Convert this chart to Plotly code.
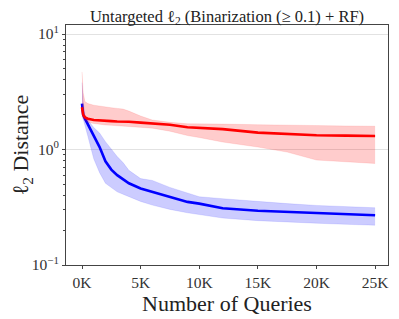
import plotly.graph_objects as go

queries = [0, 100, 250, 500, 1000, 1500, 2000, 2500, 3000, 3500, 4000, 5000, 6000,
           7500, 9000, 10000, 12000, 15000, 17500, 20000, 22500, 25000]

blue_mean = [2.5, 2.0, 1.85, 1.65, 1.35, 1.05, 0.79, 0.67, 0.6, 0.55, 0.51, 0.46, 0.43,
             0.39, 0.352, 0.34, 0.31, 0.295, 0.288, 0.28, 0.275, 0.27]
blue_upper = [3.8, 2.6, 2.0, 1.8, 1.55, 1.39, 1.17, 1.0, 0.87, 0.77, 0.66, 0.56, 0.54,
              0.47, 0.42, 0.39, 0.375, 0.353, 0.34, 0.328, 0.32, 0.313]
blue_lower = [2.0, 1.85, 1.6, 1.3, 0.83, 0.63, 0.51, 0.47, 0.43, 0.41, 0.39, 0.355, 0.33,
              0.303, 0.283, 0.272, 0.255, 0.242, 0.235, 0.23, 0.225, 0.221]

red_mean = [2.32, 2.0, 1.9, 1.85, 1.8, 1.78, 1.77, 1.76, 1.75, 1.75, 1.74, 1.71, 1.68,
            1.64, 1.56, 1.54, 1.5, 1.40, 1.36, 1.33, 1.32, 1.31]
red_upper = [4.7, 3.1, 2.6, 2.5, 2.42, 2.37, 2.33, 2.3, 2.27, 2.24, 2.15, 1.95, 1.8,
             1.72, 1.67, 1.67, 1.66, 1.64, 1.62, 1.6, 1.6, 1.59]
red_lower = [1.95, 1.85, 1.78, 1.72, 1.68, 1.65, 1.63, 1.62, 1.61, 1.6, 1.59, 1.57, 1.53,
             1.44, 1.32, 1.27, 1.16, 1.05, 0.95, 0.81, 0.78, 0.757]

x_tickvals = [0, 5000, 10000, 15000, 20000, 25000]
x_ticktext = ["0K", "5K", "10K", "15K", "20K", "25K"]
y_tickvals = [0.1, 1, 10]
y_ticktext = ["10<sup>\u22121</sup>", "10<sup>0</sup>", "10<sup>1</sup>"]
y_minor_vals = [0.2, 0.3, 0.4, 0.5, 0.6, 0.7, 0.8, 0.9,
                2, 3, 4, 5, 6, 7, 8, 9]

FONT = "Liberation Serif"

fig = go.Figure()


def band(lower, upper, mean, fillc, linec):
    fig.add_trace(go.Scatter(x=queries, y=lower, mode="lines",
                             line=dict(width=0.5, color=fillc), showlegend=False,
                             hoverinfo="skip"))
    fig.add_trace(go.Scatter(x=queries, y=upper, mode="lines", fill="tonexty",
                             fillcolor=fillc, line=dict(width=0.5, color=fillc),
                             showlegend=False, hoverinfo="skip"))
    fig.add_trace(go.Scatter(x=queries, y=mean, mode="lines",
                             line=dict(width=2.6, color=linec), showlegend=False))


band(blue_lower, blue_upper, blue_mean, "rgba(0,0,255,0.2)", "#0000ff")
band(red_lower, red_upper, red_mean, "rgba(255,0,0,0.2)", "#ff0000")

# page body adds an 8px margin, so the figure is 8px smaller and offsets shifted
fig.update_layout(
    width=391, height=311,
    margin=dict(l=58, r=11, t=17, b=54, autoexpand=False),
    paper_bgcolor="white", plot_bgcolor="white",
    font=dict(family=FONT, color="#222"),
    title=dict(text="Untargeted \u2113<sub>2</sub> (Binarization (\u2265 0.1) + RF)",
               x=0.5, xanchor="center", xref="paper", y=0.975, yanchor="middle",
               yref="container", automargin=False,
               font=dict(size=16.5, family=FONT, color="#222")),
)

fig.update_xaxes(
    range=[-1365, 26100], tickvals=x_tickvals, ticktext=x_ticktext,
    showgrid=False, zeroline=False, automargin=False,
    showline=True, linecolor="#444", linewidth=1, mirror=True,
    ticks="outside", ticklen=3, tickcolor="#444",
    tickfont=dict(size=15.5, family=FONT, color="#333"),
    title=dict(text="Number of Queries", font=dict(size=22, family=FONT, color="#222"),
               standoff=1),
)

fig.update_yaxes(
    type="log", range=[-1, 1.078], tickvals=y_tickvals, ticktext=y_ticktext,
    showgrid=True, gridcolor="#e2e2e2", gridwidth=1, zeroline=False, automargin=False,
    showline=True, linecolor="#444", linewidth=1, mirror=True,
    ticks="outside", ticklen=3, tickcolor="#444",
    minor=dict(tickvals=y_minor_vals, ticks="outside", ticklen=2, tickcolor="#444",
               showgrid=False),
    tickfont=dict(size=15.5, family=FONT, color="#333"),
    title=dict(text="\u2113<sub>2</sub> Distance", font=dict(size=22, family=FONT, color="#222"),
               standoff=4),
)

fig.write_html("out.html")
